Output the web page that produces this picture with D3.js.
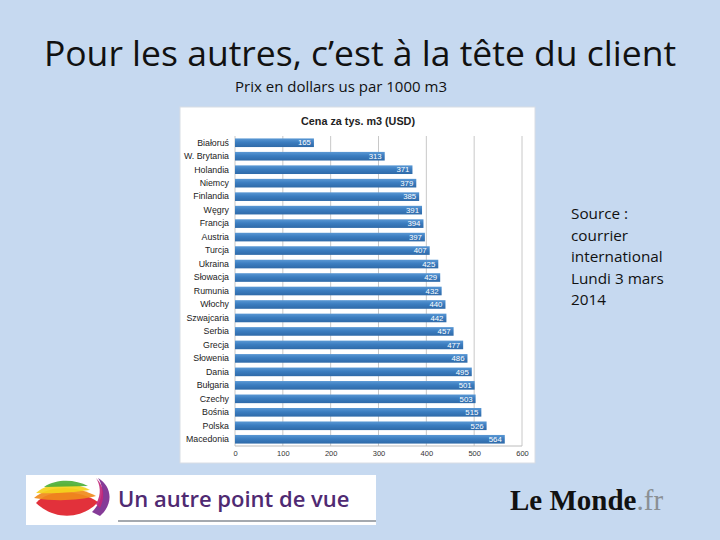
<!DOCTYPE html>
<html>
<head>
<meta charset="utf-8">
<script src="https://cdn.jsdelivr.net/npm/d3@7"></script>
<style>
  html, body { margin: 0; padding: 0; background: #c6d9f0; }
  svg { display: block; }
</style>
</head>
<body>
<script>
// pays (ordre du graphique) et prix en USD par 1000 m3
const countries = ["Białoruś", "W. Brytania", "Holandia", "Niemcy", "Finlandia", "Węgry", "Francja",
  "Austria", "Turcja", "Ukraina", "Słowacja", "Rumunia", "Włochy", "Szwajcaria", "Serbia", "Grecja",
  "Słowenia", "Dania", "Bułgaria", "Czechy", "Bośnia", "Polska", "Macedonia"];
const prices = [165, 313, 371, 379, 385, 391, 394, 397, 407, 425, 429, 432, 440, 442, 457, 477,
  486, 495, 501, 503, 515, 526, 564];
const xTicks = [0, 100, 200, 300, 400, 500, 600];
const sourceLines = ["Source :", "courrier", "international", "Lundi 3 mars", "2014"];

const W = 720, H = 540;
const svg = d3.select("body").append("svg").attr("width", W).attr("height", H);
svg.append("rect").attr("width", W).attr("height", H).attr("fill", "#c6d9f0");

// titre
svg.append("text")
  .attr("x", 360).attr("y", 66)
  .attr("text-anchor", "middle")
  .style("font-family", "'Open Sans', sans-serif")
  .style("font-size", "35.5px")
  .attr("fill", "#111")
  .text("Pour les autres, c’est à la tête du client");

svg.append("text")
  .attr("x", 341).attr("y", 92)
  .attr("text-anchor", "middle")
  .style("font-family", "'Open Sans', sans-serif")
  .style("font-size", "15px")
  .attr("fill", "#111")
  .text("Prix en dollars us par 1000 m3");

// cadre du graphique
svg.append("rect")
  .attr("x", 180).attr("y", 107).attr("width", 355).attr("height", 356)
  .attr("fill", "#fff").attr("stroke", "#d8dde4");

svg.append("text")
  .attr("x", 358).attr("y", 125)
  .attr("text-anchor", "middle")
  .style("font-family", "'Liberation Sans', Arial, sans-serif")
  .style("font-size", "10.8px")
  .style("font-weight", "bold")
  .attr("fill", "#222")
  .text("Cena za tys. m3 (USD)");

const x = d3.scaleLinear().domain([0, 600]).range([235, 522]);
const y = d3.scaleBand().domain(countries).range([136, 446]).paddingInner(0.36).paddingOuter(0.18);

const defs = svg.append("defs");
const grad = defs.append("linearGradient").attr("id", "barGrad")
  .attr("x1", 0).attr("y1", 0).attr("x2", 0).attr("y2", 1);
grad.append("stop").attr("offset", "0%").attr("stop-color", "#5a98d4");
grad.append("stop").attr("offset", "45%").attr("stop-color", "#3b7dc0");
grad.append("stop").attr("offset", "100%").attr("stop-color", "#2f6aa8");

// grille
svg.append("g").selectAll("line").data(xTicks).join("line")
  .attr("x1", d => x(d)).attr("x2", d => x(d))
  .attr("y1", 136).attr("y2", 446)
  .attr("stroke", "#c8c8c8").attr("stroke-width", 1);

svg.append("line")
  .attr("x1", x(0)).attr("x2", x(600)).attr("y1", 446).attr("y2", 446)
  .attr("stroke", "#bcbcbc");

const xAxis = svg.append("g")
  .attr("transform", "translate(0,446)")
  .call(d3.axisBottom(x).tickValues(xTicks).tickSize(0).tickPadding(5));
xAxis.select(".domain").remove();
xAxis.selectAll("text")
  .style("font-family", "'Liberation Sans', Arial, sans-serif")
  .style("font-size", "7.5px")
  .attr("fill", "#333");

const yAxis = svg.append("g")
  .attr("transform", `translate(${x(0)},0)`)
  .call(d3.axisLeft(y).tickSize(0).tickPadding(6));
yAxis.select(".domain").remove();
yAxis.selectAll("text")
  .style("font-family", "'Liberation Sans', Arial, sans-serif")
  .style("font-size", "8.8px")
  .attr("fill", "#222");

// barres
const data = countries.map((c, i) => ({ c, v: prices[i] }));
svg.append("g").selectAll("rect").data(data).join("rect")
  .attr("x", x(0))
  .attr("y", d => y(d.c))
  .attr("width", d => x(d.v) - x(0))
  .attr("height", y.bandwidth())
  .attr("fill", "url(#barGrad)");

svg.append("g").selectAll("text").data(data).join("text")
  .attr("x", d => x(d.v) - 3)
  .attr("y", d => y(d.c) + y.bandwidth() / 2)
  .attr("dy", "0.35em")
  .attr("text-anchor", "end")
  .style("font-family", "'Liberation Sans', Arial, sans-serif")
  .style("font-size", "7.8px")
  .attr("fill", "#fff")
  .text(d => d.v);

// source
svg.append("g").selectAll("text").data(sourceLines).join("text")
  .attr("x", 571)
  .attr("y", (d, i) => 219 + i * 21.6)
  .style("font-family", "'Open Sans', sans-serif")
  .style("font-size", "15.3px")
  .attr("fill", "#111")
  .text(d => d);

// logo "Un autre point de vue"
svg.append("rect").attr("x", 26).attr("y", 475).attr("width", 350).attr("height", 50).attr("fill", "#fff");
const swoosh = [
  { c: "#e0202a", d: "M36,503 C50,488 80,490 98,502 C84,518 56,522 36,503 Z" },
  { c: "#f08a1c", d: "M34,498 C50,484 78,486 96,496 C80,500 58,502 34,498 Z" },
  { c: "#f4d21c", d: "M36,493 C52,480 74,482 90,490 C74,492 56,494 36,493 Z" },
  { c: "#4caf3a", d: "M44,487 C58,478 76,480 88,486 C74,486 60,487 44,487 Z" },
  { c: "#7b2a8e", d: "M92,512 C104,500 104,486 98,478 C112,486 114,504 100,516 Z" },
  { c: "#c2287a", d: "M96,504 C102,494 100,484 96,478 C106,488 104,500 100,508 Z" }
];
svg.append("g").selectAll("path").data(swoosh).join("path")
  .attr("d", d => d.d).attr("fill", d => d.c).attr("opacity", 0.92);
svg.append("text")
  .attr("x", 118).attr("y", 507)
  .style("font-family", "'Open Sans', sans-serif")
  .style("font-size", "22px")
  .style("font-weight", "600")
  .attr("fill", "#4f2a72")
  .text("Un autre point de vue");
svg.append("line").attr("x1", 118).attr("x2", 376).attr("y1", 521).attr("y2", 521)
  .attr("stroke", "#4a5560").attr("stroke-width", 1.2);

// Le Monde.fr
const lm = svg.append("text")
  .attr("x", 510).attr("y", 510)
  .style("font-family", "'Liberation Serif', serif")
  .style("font-size", "29px")
  .style("font-weight", "bold");
lm.append("tspan").attr("fill", "#111").text("Le Monde");
lm.append("tspan").attr("fill", "#8a8f94").style("font-weight", "normal").text(".fr");
</script>
</body>
</html>
